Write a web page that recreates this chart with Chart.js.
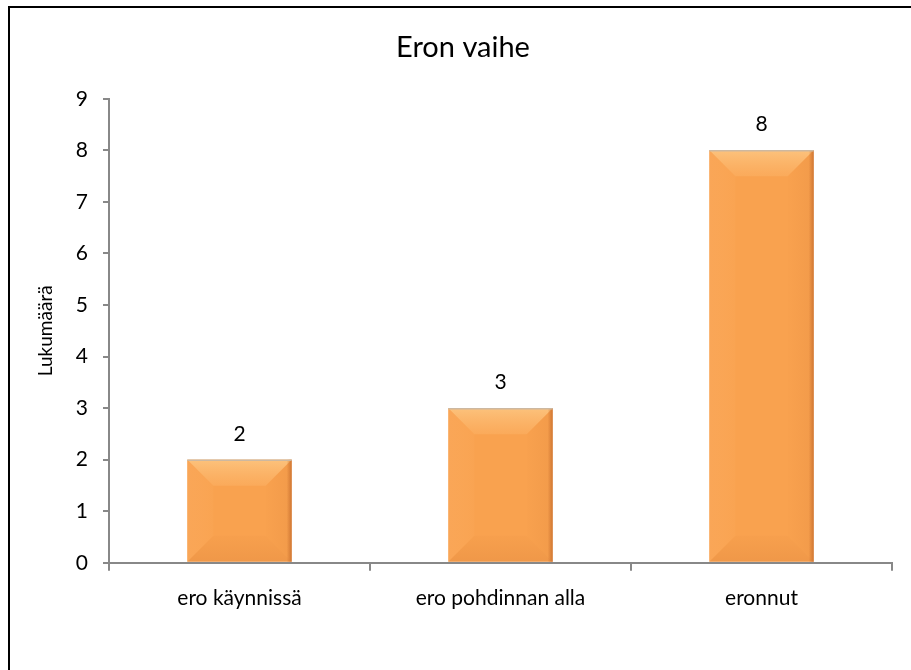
<!DOCTYPE html>
<html>
<head>
<meta charset="utf-8">
<script src="https://cdn.jsdelivr.net/npm/chart.js@4.4.0/dist/chart.umd.min.js"></script>
<style>
  html, body { margin: 0; padding: 0; background: #fff; overflow: hidden; }
  #wrap { position: relative; width: 911px; height: 670px; }
  #frame { position: absolute; left: 8px; top: 6px; width: 920px; height: 700px; border: 2px solid #000; box-sizing: border-box; }
  #c { position: absolute; left: 0; top: 0; }
</style>
</head>
<body>
<div id="wrap">
  <div id="frame"></div>
  <canvas id="c" width="911" height="670"></canvas>
</div>
<script>
// data
var categories = ['ero käynnissä', 'ero pohdinnan alla', 'eronnut'];
var counts = [2, 3, 8];
var yTicks = [0, 1, 2, 3, 4, 5, 6, 7, 8, 9];

var FONT = 'Lato, "Open Sans", sans-serif';

// soft bevel drawn over each bar
var bevel = {
  id: 'bevel',
  afterDatasetsDraw: function(chart) {
    var ctx = chart.ctx;
    var meta = chart.getDatasetMeta(0);
    meta.data.forEach(function(bar) {
      var w = bar.width;
      var l = bar.x - w / 2, r = bar.x + w / 2;
      var t = bar.y, b = bar.base;
      var d = Math.min(26, (b - t) / 2, w / 2);
      ctx.save();
      // top face
      var g = ctx.createLinearGradient(0, t, 0, t + d);
      g.addColorStop(0, '#fcc27c');
      g.addColorStop(1, 'rgba(252,180,105,0.45)');
      ctx.fillStyle = g;
      ctx.beginPath();
      ctx.moveTo(l, t); ctx.lineTo(r, t); ctx.lineTo(r - d, t + d); ctx.lineTo(l + d, t + d); ctx.closePath();
      ctx.fill();
      // left face
      var lg = ctx.createLinearGradient(l, 0, l + d, 0);
      lg.addColorStop(0, 'rgba(250,170,95,0.5)');
      lg.addColorStop(1, 'rgba(252,175,100,0.15)');
      ctx.fillStyle = lg;
      ctx.beginPath();
      ctx.moveTo(l, t); ctx.lineTo(l + d, t + d); ctx.lineTo(l + d, b - d); ctx.lineTo(l, b); ctx.closePath();
      ctx.fill();
      // right face
      var rg = ctx.createLinearGradient(r - d, 0, r, 0);
      rg.addColorStop(0, 'rgba(210,120,50,0.02)');
      rg.addColorStop(1, 'rgba(210,120,50,0.18)');
      ctx.fillStyle = rg;
      ctx.beginPath();
      ctx.moveTo(r, t); ctx.lineTo(r - d, t + d); ctx.lineTo(r - d, b - d); ctx.lineTo(r, b); ctx.closePath();
      ctx.fill();
      // bottom face
      var bg = ctx.createLinearGradient(0, b - d, 0, b);
      bg.addColorStop(0, 'rgba(215,125,55,0.06)');
      bg.addColorStop(1, 'rgba(215,125,55,0.28)');
      ctx.fillStyle = bg;
      ctx.beginPath();
      ctx.moveTo(l, b); ctx.lineTo(r, b); ctx.lineTo(r - d, b - d); ctx.lineTo(l + d, b - d); ctx.closePath();
      ctx.fill();
      // right edge shade and top rim
      var eg = ctx.createLinearGradient(r - 5, 0, r, 0);
      eg.addColorStop(0, 'rgba(190,100,40,0)');
      eg.addColorStop(1, 'rgba(190,100,40,0.65)');
      ctx.fillStyle = eg;
      ctx.fillRect(r - 5, t, 5, b - t);
      ctx.strokeStyle = '#cdb8a0';
      ctx.lineWidth = 1.5;
      ctx.beginPath(); ctx.moveTo(l, t + 0.5); ctx.lineTo(r, t + 0.5); ctx.stroke();
      ctx.restore();
    });
  }
};

// value labels above bars
var valueLabels = {
  id: 'valueLabels',
  afterDatasetsDraw: function(chart) {
    var ctx = chart.ctx;
    var meta = chart.getDatasetMeta(0);
    ctx.save();
    ctx.font = '21px ' + FONT;
    ctx.fillStyle = '#000';
    ctx.textAlign = 'center';
    ctx.textBaseline = 'alphabetic';
    meta.data.forEach(function(bar, i) {
      ctx.fillText(String(counts[i]), bar.x, bar.y - 19);
    });
    ctx.restore();
  }
};

var ctx = document.getElementById('c').getContext('2d');
var myChart = new Chart(ctx, {
  type: 'bar',
  data: {
    labels: categories,
    datasets: [{
      data: counts,
      backgroundColor: '#f9a24f',
      borderWidth: 0,
      categoryPercentage: 1,
      barPercentage: 0.4
    }]
  },
  options: {
    responsive: false,
    animation: false,
    layout: { padding: { left: 34, right: 19, top: 30, bottom: 44 } },
    plugins: {
      legend: { display: false },
      tooltip: { enabled: false },
      title: {
        display: true,
        text: 'Eron vaihe',
        color: '#000',
        font: { family: FONT, size: 29, weight: 'normal' },
        padding: { top: 0, bottom: 34 }
      }
    },
    scales: {
      x: {
        offset: true,
        grid: { display: true, offset: true, drawOnChartArea: false, drawTicks: true, tickLength: 8, color: '#888', lineWidth: 2 },
        border: { display: true, color: '#888', width: 2 },
        ticks: { color: '#000', padding: 15, font: { family: FONT, size: 21 } }
      },
      y: {
        min: 0,
        max: 9,
        afterBuildTicks: function(axis) { axis.ticks = yTicks.map(function(v) { return { value: v }; }); },
        grid: { display: true, drawOnChartArea: false, drawTicks: true, tickLength: 6, color: '#888', lineWidth: 2 },
        border: { display: true, color: '#888', width: 2 },
        ticks: { color: '#000', padding: 15, font: { family: FONT, size: 21 } },
        title: { display: true, text: 'Lukumäärä', color: '#000', font: { family: FONT, size: 19 }, padding: { top: 0, bottom: 4 } }
      }
    }
  },
  plugins: [bevel, valueLabels]
});
</script>
</body>
</html>
